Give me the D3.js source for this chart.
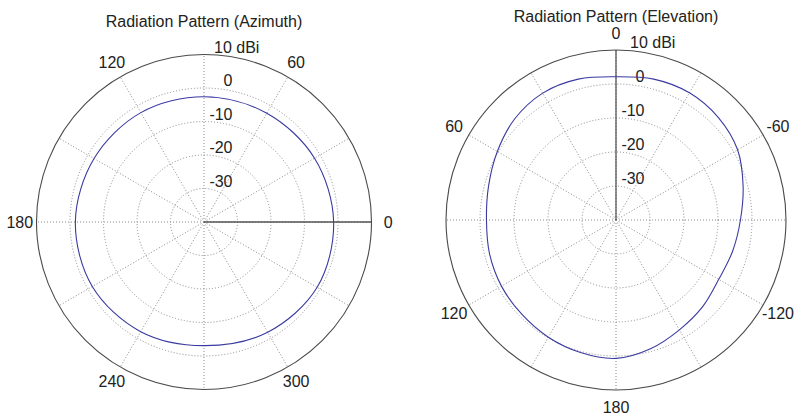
<!DOCTYPE html>
<html>
<head>
<meta charset="utf-8">
<script src="https://cdn.jsdelivr.net/npm/d3@7"></script>
<style>
  html, body { margin: 0; padding: 0; background: #fff; }
  svg { display: block; }
  text { font-family: "Liberation Sans", Arial, sans-serif; font-size: 16px; fill: #222; }
  .grid { fill: none; stroke: #8a8a8a; stroke-width: 1; stroke-dasharray: 1 2; }
  .frame { fill: none; stroke: #4a4a4a; stroke-width: 1.1; }
  .axis0 { stroke: #555; stroke-width: 1.3; }
  .trace { fill: none; stroke: #3a3aa0; stroke-width: 1.1; }
</style>
</head>
<body>
<svg id="chart" width="794" height="416"></svg>
<script>
// Gain rings (dBi) and their labels
var ringValues = [-30, -20, -10, 0, 10];
var ringLabels = ['-30', '-20', '-10', '0', '10 dBi'];
var gainMin = -40;

// Azimuth cut: angle in degrees (0 = right, counter-clockwise), gain in dBi
var azAngles = [0, 30, 60, 90, 120, 150, 180, 210, 240, 270, 300, 330];
var azGain   = [-1.3, -1.9, -2.5, -2.6, -2.3, -2.1, -1.6, -1.5, -2.2, -3.1, -2.0, -1.0];
var azTickAngles = [0, 60, 120, 180, 240, 300];
var azTickLabels = ['0', '60', '120', '180', '240', '300'];

// Elevation cut: angle in degrees (0 = top, positive to the left), gain in dBi
var elAngles = [-180, -165, -150, -135, -120, -105, -90, -75, -60, -45, -30, -15,
                0, 15, 30, 45, 60, 75, 90, 105, 120, 135, 150, 165];
var elGain   = [0.7, -0.8, -2.7, -3.95, -5.1, -4.5, -3.4, -1.3, 1.3, 2.6, 3.2, 2.9,
                2.15, 2.9, 3.1, 2.1, 0.3, -1.2, -1.9, -1.5, -1.1, -0.8, -0.2, 0.35];
var elTickAngles = [0, 60, 120, 180, -120, -60];
var elTickLabels = ['0', '60', '120', '180', '-120', '-60'];

var svg = d3.select('#chart');

function drawPolar(o) {
  var g = svg.append('g').attr('transform', 'translate(' + o.cx + ',' + o.cy + ')');
  var r = d3.scaleLinear().domain([gainMin, 10]).range([0, o.R]);
  // screen angle for d3.lineRadial: radians, 0 at top, clockwise
  var rad = function(a) { return o.toScreen(a) * Math.PI / 180; };

  // dotted rings (all but the outer frame)
  g.selectAll('.ring').data(ringValues.slice(0, -1)).join('circle')
    .attr('class', 'grid').attr('r', function(d) { return r(d); });

  // dotted spokes every 30 deg
  g.selectAll('.spoke').data(d3.range(0, 360, 30)).join('line')
    .attr('class', 'grid')
    .attr('x2', function(d) { return o.R * Math.cos(d * Math.PI / 180); })
    .attr('y2', function(d) { return o.R * Math.sin(d * Math.PI / 180); });

  // solid reference half-axis
  var a0 = rad(0);
  g.append('line').attr('class', 'axis0')
    .attr('x2', o.R * Math.sin(a0)).attr('y2', -o.R * Math.cos(a0));

  g.append('circle').attr('class', 'frame').attr('r', o.R);

  // ring labels
  g.selectAll('.rlab').data(ringValues).join('text')
    .attr('x', function(d, i) { return i === ringValues.length - 1 ? o.unitX : 28.5; })
    .attr('y', function(d) { return -r(d) - 2; })
    .attr('text-anchor', function(d, i) { return i === ringValues.length - 1 ? 'start' : 'end'; })
    .text(function(d, i) { return ringLabels[i]; });

  // angle labels
  g.selectAll('.alab').data(o.tickAngles).join('text')
    .attr('x', function(d) { return 1.1 * o.R * Math.sin(rad(d)); })
    .attr('y', function(d) { return -1.1 * o.R * Math.cos(rad(d)); })
    .attr('dy', '0.36em').attr('text-anchor', 'middle')
    .text(function(d, i) { return o.tickLabels[i]; });

  // pattern trace
  var pts = o.angles.map(function(a, i) { return [a, o.gain[i]]; });
  var line = d3.lineRadial()
    .angle(function(d) { return rad(d[0]); })
    .radius(function(d) { return r(d[1]); })
    .curve(d3.curveCatmullRomClosed.alpha(0.5));
  g.append('path').attr('class', 'trace').attr('d', line(pts));

  svg.append('text').attr('x', o.cx).attr('y', o.titleY).attr('text-anchor', 'middle').text(o.title);
}

drawPolar({
  cx: 204, cy: 222, R: 167.5, titleY: 27, unitX: 10,
  title: 'Radiation Pattern (Azimuth)',
  toScreen: function(a) { return 90 - a; },
  angles: azAngles, gain: azGain, tickAngles: azTickAngles, tickLabels: azTickLabels
});

drawPolar({
  cx: 616, cy: 220, R: 170, titleY: 21.5, unitX: 14,
  title: 'Radiation Pattern (Elevation)',
  toScreen: function(a) { return -a; },
  angles: elAngles, gain: elGain, tickAngles: elTickAngles, tickLabels: elTickLabels
});
</script>
</body>
</html>
